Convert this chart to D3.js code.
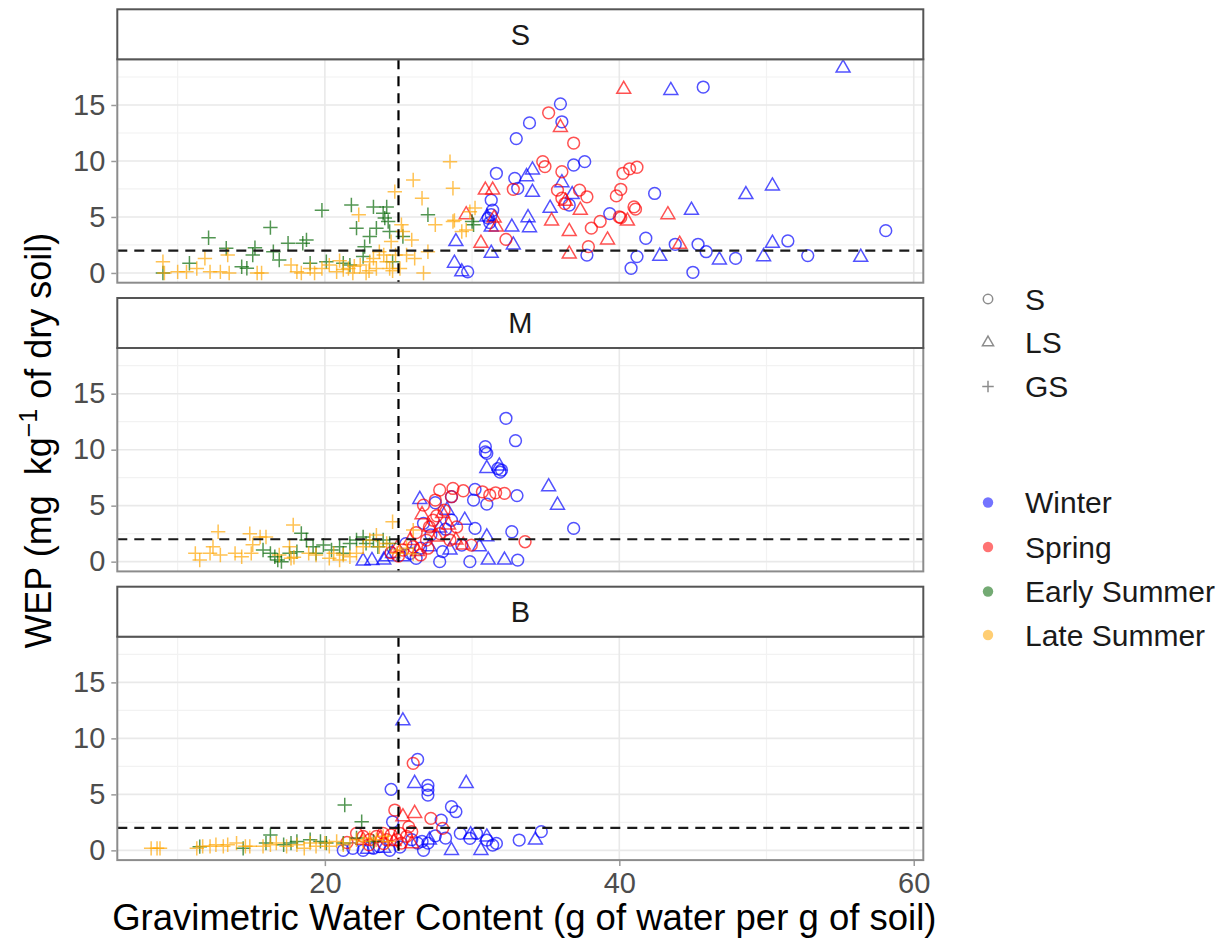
<!DOCTYPE html>
<html>
<head>
<meta charset="utf-8">
<script src="https://cdn.jsdelivr.net/npm/d3@7"></script>
<style>
  body { margin: 0; background: #fff; }
  text { font-family: "Liberation Sans", Arial, Helvetica, sans-serif; }
</style>
</head>
<body>
<svg id="chart" width="1231" height="943"></svg>
<script>
// ---- categories and ticks ----
const facets = ["S", "M", "B"];
const textures = ["S", "LS", "GS"];
const seasons = ["Winter", "Spring", "Early Summer", "Late Summer"];
const seasonColors = ["#0000ff", "#ff0000", "#006400", "#ffa500"];
const xTicks = [20, 40, 60];
const xMinorTicks = [10, 30, 50];
const yTicks = [0, 5, 10, 15];
const yMinorTicks = [2.5, 7.5, 12.5, 17.5];
const wepThreshold = 2;    // mg/kg reference line
const gwcThreshold = 25;   // water content reference line

// ---- observations: [gravimetric water content, WEP] ----
// facet S
const sWinterS = [[36.0,15.1],[36.1,13.5],[33.9,13.4],[33.0,12.0],[31.65,8.9],[32.9,8.45],[33.1,7.56],[31.3,6.5],[31.4,5.6],[31.1,4.9],[36.9,9.64],[37.65,9.94],[36.6,6.07],[39.35,5.3],[41.8,3.1],[42.4,7.1],[41.2,1.46],[40.8,0.42],[37.8,1.6],[29.7,0.1],[45.7,16.6],[43.8,2.56],[45.35,2.56],[45.9,1.9],[45.0,0.06],[47.9,1.3],[51.45,2.86],[52.8,1.55],[58.1,3.78],[31.3,5.2],[31.2,4.5]];
const sWinterLS = [[55.2,18.3],[43.5,16.3],[34.1,9.2],[33.7,8.6],[36.1,8.06],[34.1,7.2],[36.8,7.0],[35.3,5.78],[33.8,4.94],[33.9,4.05],[32.7,4.1],[32.8,2.5],[44.9,5.6],[48.6,7.0],[50.4,7.77],[50.4,2.65],[49.8,1.46],[46.8,1.16],[42.75,1.5],[56.4,1.4],[28.9,2.8],[28.8,0.87],[29.3,0.1],[31.3,1.76],[31.0,5.0],[31.3,4.1]];
const sSpringS = [[35.2,14.3],[36.9,11.6],[34.8,9.94],[34.95,9.5],[36.1,9.04],[32.8,7.47],[35.8,7.4],[36.1,6.67],[37.3,7.4],[37.8,6.8],[36.3,6.2],[32.3,3.0],[38.1,4.0],[38.7,4.6],[37.9,2.35],[40.0,5.0],[39.8,6.88],[40.1,7.47],[40.25,8.9],[41.2,9.44],[40.7,9.3],[41.0,5.9],[41.1,5.7],[40.1,4.94]];
const sSpringLS = [[40.3,16.4],[36.0,13.0],[35.4,4.64],[36.6,3.7],[37.35,5.6],[36.6,1.7],[40.55,4.64],[43.3,5.2],[44.1,2.56],[39.2,2.95],[36.35,6.4],[30.9,7.4],[31.4,7.4],[29.6,5.2],[31.5,4.9],[31.65,4.1],[30.6,2.65]];
const sEarlyGS = [[9.0,0.0],[10.8,0.87],[12.1,3.15],[13.3,2.2],[14.35,0.56],[14.7,0.42],[15.1,1.6],[15.25,2.26],[16.3,4.05],[16.5,1.9],[16.9,1.16],[17.5,2.65],[18.5,2.65],[18.75,2.95],[19.0,0.87],[19.8,5.6],[20.1,1.0],[21.25,0.87],[21.7,0.7],[21.8,6.07],[22.15,4.0],[22.6,1.46],[22.7,2.35],[23.05,3.25],[23.3,5.9],[23.5,4.0],[23.96,5.33],[24.07,4.9],[24.2,5.9],[24.3,4.6],[24.4,3.7],[24.6,1.0],[25.3,3.25],[27.0,5.2],[30.1,4.3],[30.0,4.6]];
const sLateGS = [[9.0,1.0],[9.1,0.0],[10.0,0.1],[10.6,0.1],[11.3,0.4],[11.85,1.3],[12.2,0.1],[12.9,0.1],[13.4,1.6],[13.5,0.0],[15.4,0.0],[15.7,0.0],[17.7,0.7],[18.1,0.1],[18.4,0.0],[19.0,0.4],[19.3,0.0],[19.8,0.4],[20.3,0.7],[20.8,0.1],[21.0,1.1],[21.25,0.3],[21.6,0.4],[21.9,0.0],[22.0,0.6],[22.3,5.2],[22.4,0.7],[22.8,0.0],[23.0,0.2],[23.05,1.0],[23.3,1.3],[23.5,0.4],[23.7,1.9],[24.0,1.6],[24.2,1.0],[24.4,0.4],[24.5,2.8],[24.6,0.2],[24.75,7.26],[24.8,1.6],[25.1,0.4],[25.2,4.3],[25.3,3.7],[25.55,1.6],[25.9,2.95],[26.0,8.3],[26.1,1.3],[26.6,6.67],[26.7,0.0],[27.0,1.9],[27.5,4.3],[28.5,9.94],[28.7,7.56],[28.8,4.7],[28.7,4.6],[29.3,3.7],[29.6,3.84],[29.85,5.47],[30.2,5.8]];

// facet M
const mWinterS = [[32.3,12.8],[32.95,10.8],[30.9,10.26],[30.9,9.8],[31.0,9.67],[32.0,8.18],[31.75,8.3],[30.2,6.45],[30.1,5.5],[31.0,5.14],[33.05,5.9],[36.9,2.97],[32.7,2.67],[30.2,2.97],[29.85,0.0],[33.1,0.14],[27.8,0.0],[27.5,5.26],[28.6,5.8],[26.7,3.42],[28.6,3.7],[29.3,1.48],[25.8,0.74],[26.5,1.2],[27.2,2.4],[28.2,2.9],[28.0,0.9],[26.2,0.3],[25.5,1.6],[31.9,8.0]];
const mWinterLS = [[31.0,8.33],[31.85,8.54],[35.2,6.69],[35.8,5.05],[26.45,5.56],[31.1,0.14],[32.2,0.14],[31.0,2.22],[30.5,1.33],[29.5,3.7],[28.5,1.04],[27.1,1.33],[24.2,0.44],[24.0,0.14],[24.6,0.74],[25.3,0.44],[23.2,0.1],[22.6,0.05],[27.8,3.0],[28.3,4.6]];
const mSpringS = [[27.8,6.4],[28.7,6.54],[29.4,6.33],[30.7,6.24],[31.6,6.15],[32.2,6.1],[31.2,5.95],[26.7,5.05],[27.5,5.5],[33.6,1.78],[29.95,1.48],[27.1,3.1],[28.1,4.6],[27.8,2.5],[26.9,1.93],[28.5,1.93],[26.0,1.33],[25.3,1.04],[27.35,3.7],[28.95,3.1],[28.6,5.8],[26.2,2.6],[27.6,4.1],[25.0,0.5],[24.5,0.8],[26.5,0.6],[27.0,1.2]];
const mSpringLS = [[28.0,4.3],[28.9,1.93],[27.1,3.1],[28.4,3.27],[29.4,1.48],[26.6,4.2],[27.6,2.2],[25.8,1.9],[24.9,1.2],[26.3,0.9]];
const mEarlyGS = [[15.8,1.04],[16.3,0.74],[16.6,0.44],[16.8,0.14],[17.05,0.0],[17.6,0.74],[18.1,0.88],[18.4,2.53],[18.75,1.93],[19.2,1.33],[19.4,0.74],[19.9,1.48],[20.45,1.04],[21.0,1.33],[21.25,0.74],[21.7,1.63],[22.15,1.93],[22.6,2.2],[22.8,1.63],[23.3,1.93],[23.6,1.33],[23.96,1.93],[24.4,1.63]];
const mLateGS = [[11.2,0.74],[11.5,0.14],[12.2,0.74],[12.4,1.33],[12.75,2.67],[12.9,0.6],[13.9,0.74],[14.35,0.44],[14.9,2.5],[15.0,0.74],[15.1,1.5],[15.6,2.2],[16.0,2.2],[16.9,0.6],[17.6,1.33],[17.7,0.3],[17.85,3.27],[17.9,0.4],[18.9,0.74],[19.4,0.6],[20.3,0.3],[20.6,0.74],[21.0,0.14],[21.25,0.6],[21.7,0.44],[22.15,0.74],[22.6,1.33],[23.05,1.93],[23.5,2.37],[23.7,1.33],[24.2,1.63],[24.6,3.56],[24.9,0.74],[25.1,1.04],[25.55,1.2],[26.0,2.82],[26.0,0.7]];

// facet B
const bWinterS = [[26.3,8.12],[24.5,5.45],[27.0,5.8],[27.0,5.4],[27.0,4.94],[28.6,3.9],[28.9,3.45],[27.9,2.7],[24.6,2.55],[29.2,1.52],[29.85,1.07],[30.3,1.52],[31.0,0.92],[31.4,0.47],[31.65,0.62],[33.2,0.92],[34.7,1.67],[26.7,0.0],[21.25,0.0],[21.9,0.18],[22.6,0.0],[23.3,0.18],[23.7,0.33],[24.4,0.0],[25.9,0.95],[26.3,0.65],[26.6,0.8],[27.0,0.65],[25.1,0.3],[27.5,1.3],[28.2,1.1]];
const bWinterLS = [[25.3,11.57],[26.1,5.98],[29.6,5.98],[31.0,1.2],[34.3,0.92],[28.6,0.0],[30.6,0.0],[27.1,0.92],[22.9,0.1],[24.0,0.2],[29.9,1.4]];
const bSpringS = [[26.0,7.77],[24.75,3.6],[27.2,2.86],[28.0,1.96],[25.7,2.1],[22.15,1.52],[22.6,1.25],[23.05,0.95],[23.5,1.25],[23.96,1.52],[24.2,0.95],[24.5,1.37],[24.9,0.95],[25.1,1.52],[25.55,1.25],[25.2,0.65],[25.9,1.67],[21.5,0.7],[23.0,0.5],[24.0,0.6]];
const bSpringLS = [[26.1,3.3],[25.3,3.0],[22.6,0.9],[23.8,1.1],[24.7,0.8],[25.9,0.6]];
const bEarlyGS = [[21.35,4.05],[22.5,2.55],[11.5,0.33],[14.45,0.18],[16.0,0.65],[16.3,1.37],[17.2,0.5],[17.7,0.65],[18.1,0.8],[19.0,0.95],[19.7,0.8],[20.1,0.65],[21.25,0.65],[22.15,1.1],[23.3,0.8]];
const bLateGS = [[8.2,0.18],[8.6,0.18],[8.8,0.18],[11.3,0.18],[11.7,0.36],[12.2,0.36],[12.6,0.5],[13.1,0.36],[13.4,0.5],[14.0,0.65],[14.6,0.36],[14.9,0.36],[15.8,0.36],[16.3,0.5],[16.7,0.65],[17.4,0.36],[18.1,0.5],[18.6,0.18],[19.0,0.65],[19.4,0.36],[20.0,0.65],[20.3,0.36],[20.8,0.8],[21.25,0.5],[21.7,0.65],[22.15,0.95],[22.6,0.8],[23.05,1.1],[23.5,0.95],[23.96,1.25],[24.3,0.8]];

// group series per facet: [season, texture, points]
const facetSeries = {
  S: [["Winter","S",sWinterS],["Winter","LS",sWinterLS],["Spring","S",sSpringS],["Spring","LS",sSpringLS],["Early Summer","GS",sEarlyGS],["Late Summer","GS",sLateGS]],
  M: [["Winter","S",mWinterS],["Winter","LS",mWinterLS],["Spring","S",mSpringS],["Spring","LS",mSpringLS],["Early Summer","GS",mEarlyGS],["Late Summer","GS",mLateGS]],
  B: [["Winter","S",bWinterS],["Winter","LS",bWinterLS],["Spring","S",bSpringS],["Spring","LS",bSpringLS],["Early Summer","GS",bEarlyGS],["Late Summer","GS",bLateGS]]
};

// ---- layout ----
const panelLeft = 117.3, panelRight = 923.3;
const stripH = 50, panelH = 223.4, facetGap = 15.3, topY = 9.3;
const xDomain = [5.9, 60.65];
const yDomain = [-0.87, 19.08];
const pointAlpha = 0.68;
const fontFamily = "'Liberation Sans', Arial, sans-serif";

const svg = d3.select("#chart");
svg.append("rect").attr("width", 1231).attr("height", 943).attr("fill", "#fff");

const x = d3.scaleLinear().domain(xDomain).range([panelLeft, panelRight]);
const color = d3.scaleOrdinal().domain(seasons).range(seasonColors);

const triPath = d3.symbol().type(d3.symbolTriangle).size(84)();
function drawMark(g, texture, cx, cy, col, opacity, scale = 1) {
  if (texture === "S") {
    g.append("circle").attr("cx", cx).attr("cy", cy).attr("r", 5.9 * scale)
      .attr("fill", "none").attr("stroke", col).attr("stroke-width", 1.5).attr("stroke-opacity", opacity);
  } else if (texture === "LS") {
    g.append("path").attr("d", triPath)
      .attr("transform", `translate(${cx},${cy}) scale(${scale})`)
      .attr("fill", "none").attr("stroke", col).attr("stroke-width", 1.5 / scale).attr("stroke-opacity", opacity);
  } else {
    const a = 7.2 * scale;
    g.append("path").attr("d", `M${cx - a},${cy}H${cx + a}M${cx},${cy - a}V${cy + a}`)
      .attr("fill", "none").attr("stroke", col).attr("stroke-width", 1.5).attr("stroke-opacity", opacity);
  }
}

facets.forEach((f, i) => {
  const stripTop = topY + i * (stripH + panelH + facetGap);
  const pTop = stripTop + stripH;
  const pBottom = pTop + panelH;
  const y = d3.scaleLinear().domain(yDomain).range([pBottom, pTop]);
  const g = svg.append("g");

  // grid
  const grid = g.append("g");
  yMinorTicks.forEach(v => grid.append("line").attr("x1", panelLeft).attr("x2", panelRight)
    .attr("y1", y(v)).attr("y2", y(v)).attr("stroke", "#f2f2f2").attr("stroke-width", 1.2));
  xMinorTicks.forEach(v => grid.append("line").attr("y1", pTop).attr("y2", pBottom)
    .attr("x1", x(v)).attr("x2", x(v)).attr("stroke", "#f2f2f2").attr("stroke-width", 1.2));
  yTicks.forEach(v => grid.append("line").attr("x1", panelLeft).attr("x2", panelRight)
    .attr("y1", y(v)).attr("y2", y(v)).attr("stroke", "#e9e9e9").attr("stroke-width", 1.6));
  xTicks.forEach(v => grid.append("line").attr("y1", pTop).attr("y2", pBottom)
    .attr("x1", x(v)).attr("x2", x(v)).attr("stroke", "#e9e9e9").attr("stroke-width", 1.6));

  // points
  const pts = g.append("g");
  facetSeries[f].forEach(([season, texture, data]) => {
    data.forEach(([gx, wep]) => drawMark(pts, texture, x(gx), y(wep), color(season), pointAlpha));
  });

  // reference lines
  g.append("line").attr("x1", panelLeft).attr("x2", panelRight)
    .attr("y1", y(wepThreshold)).attr("y2", y(wepThreshold))
    .attr("stroke", "#1a1a1a").attr("stroke-width", 2.2).attr("stroke-dasharray", "10,7");
  g.append("line").attr("x1", x(gwcThreshold)).attr("x2", x(gwcThreshold))
    .attr("y1", pTop).attr("y2", pBottom)
    .attr("stroke", "#000").attr("stroke-width", 2.2).attr("stroke-dasharray", "10,7");

  // panel border
  g.append("rect").attr("x", panelLeft).attr("y", pTop).attr("width", panelRight - panelLeft)
    .attr("height", panelH).attr("fill", "none").attr("stroke", "#8c8c8c").attr("stroke-width", 2);

  // strip
  g.append("rect").attr("x", panelLeft).attr("y", stripTop).attr("width", panelRight - panelLeft)
    .attr("height", stripH).attr("fill", "#fff").attr("stroke", "#555").attr("stroke-width", 2);
  g.append("text").attr("x", (panelLeft + panelRight) / 2).attr("y", stripTop + stripH / 2)
    .attr("dy", "0.36em").attr("text-anchor", "middle").attr("font-size", 29)
    .attr("fill", "#1a1a1a").text(f);

  // y axis
  const yAxis = d3.axisLeft(y).tickValues(yTicks).tickSize(5).tickPadding(6);
  const ya = g.append("g").attr("transform", `translate(${panelLeft - 1},0)`).call(yAxis);
  ya.select(".domain").remove();
  ya.selectAll(".tick line").attr("stroke", "#9a9a9a").attr("stroke-width", 1.5);
  ya.selectAll(".tick text").attr("font-size", 29).attr("fill", "#4d4d4d").attr("font-family", fontFamily);

  // x axis on the last facet
  if (i === facets.length - 1) {
    const xAxis = d3.axisBottom(x).tickValues(xTicks).tickSize(5).tickPadding(6);
    const xa = g.append("g").attr("transform", `translate(0,${pBottom + 1})`).call(xAxis);
    xa.select(".domain").remove();
    xa.selectAll(".tick line").attr("stroke", "#9a9a9a").attr("stroke-width", 1.5);
    xa.selectAll(".tick text").attr("font-size", 29).attr("fill", "#4d4d4d").attr("font-family", fontFamily);
  }
});

// axis titles
svg.append("text").attr("x", (panelLeft + panelRight) / 2 + 4).attr("y", 930)
  .attr("text-anchor", "middle").attr("font-size", 36.5).attr("fill", "#000")
  .text("Gravimetric Water Content (g of water per g of soil)");

const yTitle = svg.append("text")
  .attr("transform", `translate(51,${(topY + 860) / 2 + 6}) rotate(-90)`)
  .attr("text-anchor", "middle").attr("font-size", 36).attr("fill", "#000");
yTitle.append("tspan").text("WEP (mg\u00a0\u00a0kg");
yTitle.append("tspan").attr("font-size", 25).attr("dy", -14).text("\u22121");
yTitle.append("tspan").attr("dy", 14).text(" of dry soil)");

// legends
const legX = 988, legTextX = 1025;
const shapeLegendY = [299, 342.5, 386.5];
const colorLegendY = [502.5, 547, 591.5, 635];
const leg = svg.append("g");
textures.forEach((t, k) => {
  drawMark(leg, t, legX, shapeLegendY[k], "#000", 0.45, 0.8);
  leg.append("text").attr("x", legTextX).attr("y", shapeLegendY[k]).attr("dy", "0.36em")
    .attr("font-size", 30).attr("fill", "#1a1a1a").text(t);
});
seasons.forEach((s, k) => {
  leg.append("circle").attr("cx", legX).attr("cy", colorLegendY[k]).attr("r", 5.2)
    .attr("fill", color(s)).attr("fill-opacity", 0.55);
  leg.append("text").attr("x", legTextX).attr("y", colorLegendY[k]).attr("dy", "0.36em")
    .attr("font-size", 30).attr("fill", "#1a1a1a").text(s);
});
</script>
</body>
</html>
